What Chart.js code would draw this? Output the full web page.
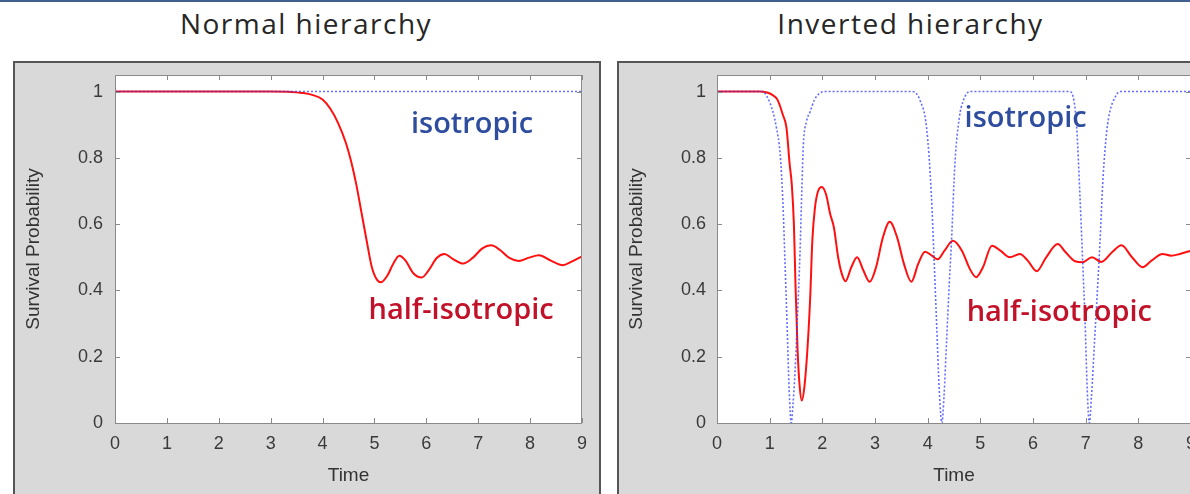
<!DOCTYPE html>
<html>
<head>
<meta charset="utf-8">
<script src="https://cdn.jsdelivr.net/npm/chart.js@4.4.1/dist/chart.umd.min.js"></script>
<style>
  html, body { margin: 0; padding: 0; width: 1190px; height: 494px; overflow: hidden; background: #fff; }
  .rule { position: absolute; left: 0; top: 0; width: 1190px; height: 2px; background: #41608f; }
  .heading { position: absolute; top: 4px; font: 28px 'Open Sans', sans-serif; line-height: 38px;
             color: #262626; text-align: center; letter-spacing: 1.5px; white-space: nowrap; }
  .panel { position: absolute; top: 61px; height: 450px; box-sizing: border-box;
           border: 2px solid #555; background: #d9d9d9; }
  canvas { position: absolute; top: 63px; }
</style>
</head>
<body>
<div class="rule"></div>
<div class="heading" style="left:0;width:612px;">Normal hierarchy</div>
<div class="heading" style="left:610px;width:601px;">Inverted hierarchy</div>
<div class="panel" style="left:13px;width:588px;"></div>
<div class="panel" style="left:617px;width:600px;"></div>
<canvas id="normal" width="584" height="431" style="left:15px;width:584px;height:431px;"></canvas>
<canvas id="inverted" width="600" height="431" style="left:619px;width:600px;height:431px;"></canvas>

<script>
// Axis ticks shared by both panels
const timeTicks = [0, 1, 2, 3, 4, 5, 6, 7, 8, 9];
const probTicks = [0, 0.2, 0.4, 0.6, 0.8, 1];

// Normal hierarchy: isotropic stays at 1
const normalIsoTime = [0, 9];
const normalIsoProb = [1, 1];

// Normal hierarchy: half-isotropic
const normalHalfTime = [0, 3.0, 3.4, 3.6, 3.8, 4.0, 4.15, 4.3, 4.45, 4.55, 4.65, 4.75, 4.85, 4.95, 5.05, 5.13,
  5.25, 5.36, 5.48, 5.6, 5.75, 5.91, 6.05, 6.2, 6.35, 6.5, 6.71, 6.9, 7.08, 7.25, 7.42, 7.6, 7.78,
  7.98, 8.17, 8.4, 8.63, 8.8, 9.0];
const normalHalfProb = [1, 1, 0.999, 0.996, 0.99, 0.976, 0.948, 0.905, 0.845, 0.79, 0.72, 0.635, 0.55, 0.47, 0.432, 0.425,
  0.445, 0.48, 0.505, 0.49, 0.452, 0.439, 0.462, 0.498, 0.51, 0.496, 0.481, 0.499, 0.527, 0.536, 0.522, 0.498, 0.489,
  0.499, 0.506, 0.49, 0.476, 0.487, 0.503];

// Inverted hierarchy: isotropic, with three full dips
const invertedIsoTime = [0, 0.87, 0.95, 1.06, 1.13, 1.2, 1.25, 1.29, 1.33, 1.37, 1.41, 1.44, 1.48, 1.53, 1.575,
  1.61, 1.64, 1.7, 1.77, 1.85, 1.95, 2.05,
  3.72, 3.85, 3.98, 4.07, 4.12, 4.17, 4.22, 4.27, 4.31, 4.36, 4.41, 4.45, 4.52, 4.6, 4.67, 4.8,
  6.7, 6.78, 6.83, 6.89, 6.94, 6.99, 7.03, 7.07, 7.11, 7.17, 7.23, 7.27, 7.33, 7.4, 7.46, 7.55, 7.65, 9.0];
const invertedIsoProb = [1, 1, 0.985, 0.94, 0.89, 0.81, 0.67, 0.49, 0.3, 0.1, 0, 0.05, 0.15, 0.33, 0.51,
  0.7, 0.84, 0.91, 0.94, 0.975, 0.995, 1,
  1, 0.975, 0.89, 0.69, 0.5, 0.3, 0.1, 0, 0.08, 0.25, 0.42, 0.54, 0.79, 0.92, 0.97, 1,
  1, 0.97, 0.89, 0.69, 0.5, 0.3, 0.1, 0, 0.08, 0.25, 0.42, 0.54, 0.74, 0.88, 0.94, 0.98, 1, 1];

// Inverted hierarchy: half-isotropic
const invertedHalfTime = [0, 0.8, 0.95, 1.05, 1.15, 1.25, 1.32, 1.38, 1.42, 1.46, 1.49, 1.53, 1.57, 1.61, 1.66,
  1.72, 1.77, 1.81, 1.86, 1.92, 1.99, 2.07, 2.15, 2.22, 2.3, 2.37, 2.44, 2.55, 2.66, 2.78, 2.9, 3.02, 3.15,
  3.28, 3.42, 3.55, 3.69, 3.82, 3.95, 4.08, 4.19, 4.32, 4.48, 4.65, 4.8, 4.92, 5.05, 5.22, 5.38, 5.56,
  5.75, 5.9, 6.07, 6.25, 6.47, 6.62, 6.8, 6.94, 7.12, 7.3, 7.5, 7.68, 7.88, 8.08, 8.25, 8.46, 8.62, 8.79, 9.0];
const invertedHalfProb = [1, 1, 0.997, 0.99, 0.975, 0.93, 0.89, 0.78, 0.72, 0.6, 0.42, 0.22, 0.11, 0.068, 0.11,
  0.23, 0.38, 0.55, 0.65, 0.7, 0.712, 0.69, 0.63, 0.59, 0.5, 0.45, 0.428, 0.47, 0.5, 0.46, 0.426, 0.47, 0.56,
  0.607, 0.56, 0.48, 0.426, 0.48, 0.517, 0.505, 0.494, 0.52, 0.55, 0.52, 0.465, 0.44, 0.47, 0.535, 0.52, 0.5,
  0.51, 0.49, 0.458, 0.5, 0.54, 0.515, 0.488, 0.485, 0.5, 0.486, 0.515, 0.536, 0.5, 0.47, 0.49, 0.51, 0.505, 0.51, 0.52];

const toPoints = (ts, ps) => ts.map((t, i) => ({ x: t, y: ps[i] }));

const AXIS_FONT = 'Liberation Sans, Arial, sans-serif';

// White plotting area, gnuplot-style frame with inward ticks on all four sides
const framePlugin = {
  id: 'frame',
  beforeDatasetsDraw(chart) {
    const { ctx, chartArea: a } = chart;
    ctx.save();
    ctx.fillStyle = '#ffffff';
    ctx.fillRect(a.left, a.top, a.right - a.left, a.bottom - a.top);
    ctx.restore();
  },
  afterDatasetsDraw(chart) {
    const { ctx, chartArea: a, scales } = chart;
    const len = 5;
    ctx.save();
    ctx.strokeStyle = '#8a8a8a';
    ctx.lineWidth = 1;
    ctx.strokeRect(a.left + 0.5, a.top + 0.5, a.right - a.left - 1, a.bottom - a.top);
    ctx.beginPath();
    timeTicks.forEach(t => {
      const px = Math.round(scales.x.getPixelForValue(t)) + 0.5;
      ctx.moveTo(px, a.bottom); ctx.lineTo(px, a.bottom - len);
      ctx.moveTo(px, a.top); ctx.lineTo(px, a.top + len);
    });
    probTicks.forEach(p => {
      const py = Math.round(scales.y.getPixelForValue(p)) + 0.5;
      ctx.moveTo(a.left, py); ctx.lineTo(a.left + len, py);
      ctx.moveTo(a.right, py); ctx.lineTo(a.right - len, py);
    });
    ctx.stroke();
    ctx.restore();
  }
};

// Curve names written inside the plot, anchored at data coordinates
const curveLabelPlugin = {
  id: 'curveLabels',
  afterDraw(chart, args, opts) {
    const { ctx, scales } = chart;
    ctx.save();
    ctx.font = '600 29px "Open Sans", sans-serif';
    ctx.textAlign = 'center';
    ctx.textBaseline = 'middle';
    (opts.items || []).forEach(item => {
      ctx.fillStyle = item.color;
      ctx.fillText(item.text, scales.x.getPixelForValue(item.x), scales.y.getPixelForValue(item.y));
    });
    ctx.restore();
  }
};

function buildChart(id, iso, half, layout, labels) {
  return new Chart(document.getElementById(id), {
    type: 'line',
    data: {
      datasets: [
        {
          label: 'isotropic',
          data: iso,
          borderColor: 'rgba(50, 60, 255, 0.75)',
          borderWidth: 1.6,
          borderDash: [2, 2],
          pointRadius: 0,
          cubicInterpolationMode: 'monotone'
        },
        {
          label: 'half-isotropic',
          data: half,
          borderColor: '#ff1010',
          borderWidth: 2,
          pointRadius: 0,
          cubicInterpolationMode: 'monotone'
        }
      ]
    },
    options: {
      responsive: false,
      animation: false,
      events: [],
      layout: { padding: layout.padding },
      scales: {
        x: {
          type: 'linear',
          min: 0,
          max: 9,
          afterBuildTicks: s => { s.ticks = timeTicks.map(v => ({ value: v })); },
          afterFit: s => { s.height = layout.xHeight; s.paddingLeft = 0; s.paddingRight = 0; },
          grid: { display: false, drawTicks: false },
          border: { display: false },
          ticks: { autoSkip: false, maxRotation: 0, padding: 10, color: '#3a3a3a',
                   font: { family: AXIS_FONT, size: 18 } },
          title: { display: true, text: 'Time', color: '#333', padding: { top: 0, bottom: 7 },
                   font: { family: AXIS_FONT, size: 19 } }
        },
        y: {
          min: 0,
          max: 1.05,
          afterBuildTicks: s => { s.ticks = probTicks.map(v => ({ value: v })); },
          afterFit: s => { s.width = layout.yWidth; s.paddingTop = 0; s.paddingBottom = 0; },
          grid: { display: false, drawTicks: false },
          border: { display: false },
          ticks: { padding: layout.yTickPad, color: '#3a3a3a',
                   font: { family: AXIS_FONT, size: 18 },
                   callback: v => String(Number(v.toFixed(1))) },
          title: { display: true, text: 'Survival Probability', color: '#333',
                   padding: { top: layout.yTitlePad, bottom: 0 },
                   font: { family: AXIS_FONT, size: 19 } }
        }
      },
      plugins: {
        legend: { display: false },
        tooltip: { enabled: false },
        curveLabels: { items: labels }
      }
    },
    plugins: [framePlugin, curveLabelPlugin]
  });
}

buildChart('normal',
  toPoints(normalIsoTime, normalIsoProb),
  toPoints(normalHalfTime, normalHalfProb),
  { padding: { left: 0, top: 12, right: 17, bottom: 0 }, xHeight: 71, yWidth: 100, yTickPad: 12, yTitlePad: 7 },
  [
    { text: 'isotropic', x: 6.88, y: 0.9, color: '#2f4d9e' },
    { text: 'half-isotropic', x: 6.67, y: 0.34, color: '#c2122a' }
  ]);

buildChart('inverted',
  toPoints(invertedIsoTime, invertedIsoProb),
  toPoints(invertedHalfTime, invertedHalfProb),
  { padding: { left: 0, top: 12, right: 28, bottom: 0 }, xHeight: 71, yWidth: 98, yTickPad: 11, yTitlePad: 6 },
  [
    { text: 'isotropic', x: 5.86, y: 0.918, color: '#2f4d9e' },
    { text: 'half-isotropic', x: 6.5, y: 0.334, color: '#c2122a' }
  ]);
</script>
</body>
</html>
